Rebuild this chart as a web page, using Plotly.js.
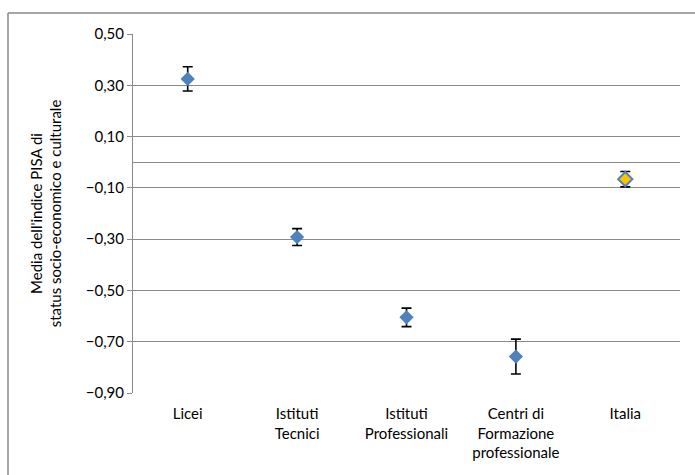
<!DOCTYPE html>
<html>
<head>
<meta charset="utf-8">
<script src="https://cdn.plot.ly/plotly-3.0.1.min.js"></script>
<style>
html,body{margin:0;padding:0;background:#fff;}
#chart{width:695px;height:475px;}
</style>
</head>
<body>
<div id="chart"></div>
<script>
const categories = ["Licei", "Istituti<br>Tecnici", "Istituti<br>Professionali", "Centri di<br>Formazione<br>professionale", "Italia"];
const means = [0.325, -0.292, -0.605, -0.758, -0.066];
const errPlus = [0.047, 0.033, 0.036, 0.068, 0.030];
const errMinus = [0.047, 0.033, 0.036, 0.068, 0.030];
const fillColors = ["#4F81BD", "#4F81BD", "#4F81BD", "#4F81BD", "#FFC000"];
const yTitle = "Media dell'indice PISA di<br>status socio-economico e culturale";

const W = 695, H = 475;
const M = {l: 133, r: 15, t: 34, b: 82};
const pw = W - M.l - M.r, ph = H - M.t - M.b;
function px2paperX(px){ return (px - M.l) / pw; }
function px2paperY(py){ return 1 - (py - M.t) / ph; }

const trace = {
  type: "scatter",
  mode: "markers",
  x: categories,
  y: means,
  marker: {
    symbol: "diamond",
    size: 11,
    color: fillColors,
    line: {color: "#4F81BD", width: [0, 0, 0, 0, 2]}
  },
  error_y: {
    type: "data",
    symmetric: false,
    array: errPlus,
    arrayminus: errMinus,
    color: "#000000",
    thickness: 1.6,
    width: 5
  },
  hoverinfo: "x+y",
  showlegend: false
};

const font = {family: "Lato, 'Open Sans', 'Liberation Sans', sans-serif", size: 15, color: "#000"};

const layout = {
  width: W, height: H,
  margin: M,
  paper_bgcolor: "#fff",
  plot_bgcolor: "#fff",
  separators: ",.",
  font: font,
  showlegend: false,
  xaxis: {
    type: "category",
    showgrid: false,
    zeroline: false,
    showline: false,
    ticks: "",
    tickfont: font,
    ticklabelstandoff: 10,
    range: [-0.5, 4.5],
    fixedrange: true
  },
  yaxis: {
    range: [-0.9, 0.5],
    dtick: 0.2,
    tick0: -0.9,
    tickformat: ".2f",
    showgrid: true,
    gridcolor: "#8a8a8a",
    gridwidth: 1,
    zeroline: true,
    zerolinecolor: "#8a8a8a",
    zerolinewidth: 1,
    showline: true,
    linecolor: "#8a8a8a",
    linewidth: 1,
    ticks: "outside",
    ticklen: 5,
    tickcolor: "#8a8a8a",
    tickfont: font,
    title: {text: yTitle, font: font, standoff: 20},
    fixedrange: true
  },
  shapes: [
    {type: "line", xref: "paper", yref: "paper",
     x0: px2paperX(8), x1: px2paperX(W + 5), y0: px2paperY(13), y1: px2paperY(13),
     line: {color: "#8a8a8a", width: 1.5}},
    {type: "line", xref: "paper", yref: "paper",
     x0: px2paperX(8), x1: px2paperX(8), y0: px2paperY(13), y1: px2paperY(H + 5),
     line: {color: "#8a8a8a", width: 1.5}}
  ]
};

Plotly.newPlot("chart", [trace], layout, {displayModeBar: false, staticPlot: true});
</script>
</body>
</html>
